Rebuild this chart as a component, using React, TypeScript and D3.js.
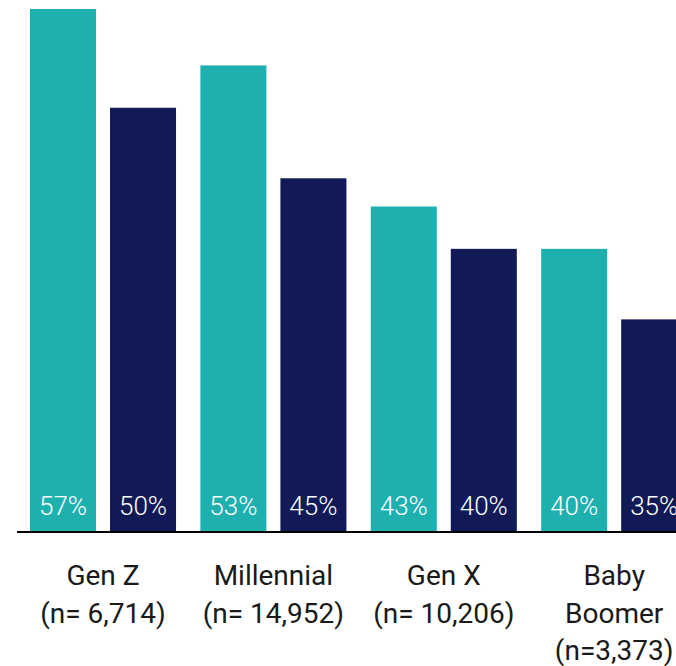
import React from "react";
import * as d3 from "d3";

// Share of respondents by generation, two series per group
const categories = ["Gen Z", "Millennial", "Gen X", "Baby Boomer"];
const categoryLines = [
  ["Gen Z", "(n= 6,714)"],
  ["Millennial", "(n= 14,952)"],
  ["Gen X", "(n= 10,206)"],
  ["Baby", "Boomer", "(n=3,373)"],
];
const seriesKeys = ["first", "second"];
const firstValues = [57, 53, 43, 40];
const secondValues = [50, 45, 40, 35];
const seriesColors = ["#1EAFAF", "#111A57"];

const W = 676;
const H = 666;
const baseY = 531;

export default function App() {
  const values = [firstValues, secondValues];

  const y = d3.scaleLinear().domain([20, 57]).range([baseY, 9]);

  const x0 = d3
    .scaleBand<string>()
    .domain(categories)
    .range([30, 687.2])
    .paddingInner(0.143)
    .paddingOuter(0);

  const x1 = d3
    .scaleBand<string>()
    .domain(seriesKeys)
    .range([0, x0.bandwidth()])
    .paddingInner(0.175);

  const font = "Roboto, 'Noto Sans', sans-serif";

  return (
    <svg
      width={W}
      height={H}
      style={{ position: "absolute", left: 0, top: 0, display: "block", background: "#fff" }}
    >
      {categories.map((c, ci) => (
        <g key={c} transform={`translate(${x0(c)},0)`}>
          {seriesKeys.map((k, si) => {
            const v = values[si][ci];
            const bx = x1(k)!;
            const bw = x1.bandwidth();
            return (
              <g key={k}>
                <rect
                  x={bx}
                  y={y(v)}
                  width={bw}
                  height={baseY - y(v)}
                  fill={seriesColors[si]}
                />
                <text
                  x={bx + bw / 2}
                  y={515}
                  textAnchor="middle"
                  fill="#ffffff"
                  fontFamily={font}
                  fontWeight={300}
                  fontSize={26}
                >
                  {`${v}%`}
                </text>
              </g>
            );
          })}
          {categoryLines[ci].map((line, li) => (
            <text
              key={li}
              x={x0.bandwidth() / 2}
              y={585 + li * 37.5}
              textAnchor="middle"
              fill="#1a1a1a"
              fontFamily={font}
              fontWeight={400}
              fontSize={28}
            >
              {line}
            </text>
          ))}
        </g>
      ))}
      <line x1={17} x2={W} y1={532} y2={532} stroke="#000" strokeWidth={2} />
    </svg>
  );
}
